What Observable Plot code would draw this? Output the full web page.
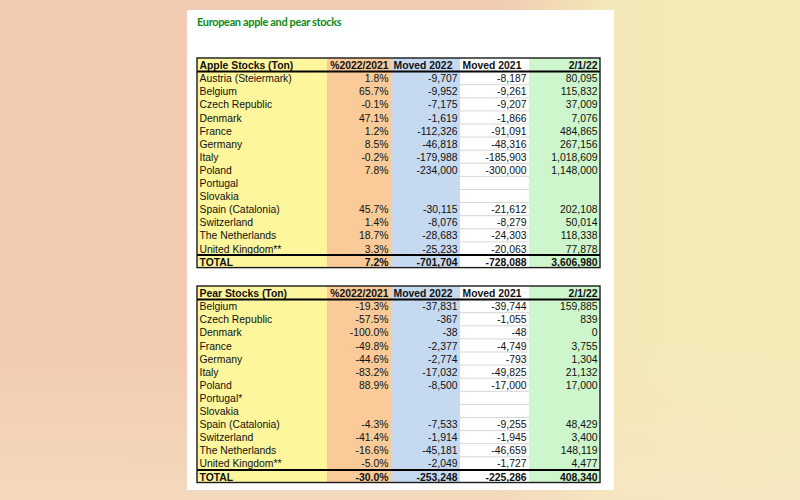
<!DOCTYPE html>
<html>
<head>
<meta charset="utf-8">
<script src="https://cdn.jsdelivr.net/npm/d3@7"></script>
<script src="https://cdn.jsdelivr.net/npm/@observablehq/plot@0.6"></script>
<style>
  html, body { margin: 0; padding: 0; }
  body {
    width: 800px; height: 500px; overflow: hidden; position: relative;
    background:
      linear-gradient(180deg, rgba(247,228,198,0) 68%, rgba(247,228,198,0.55) 100%),
      linear-gradient(90deg, #f1cab1 0%, #f1cbb2 62%, #f3e8b7 76%, #f3ecb8 100%);
  }
  #panel { position: absolute; left: 187px; top: 10px; width: 427px; height: 480px; background: #fff; }
  #title { position: absolute; left: 197px; top: 15px; font: bold 11px Lato, sans-serif; letter-spacing: -0.35px; color: #0e8a14; white-space: nowrap; }
  .tbl { position: absolute; left: 195px; }
  .tbl svg { display: block; }
</style>
</head>
<body>
<div id="panel"></div>
<div id="title">European apple and pear stocks</div>
<div id="apple" class="tbl" style="top:56px"></div>
<div id="pear" class="tbl" style="top:284px"></div>
<script>
// ---------- data ----------
const columnHeaders = ["%2022/2021", "Moved 2022", "Moved 2021", "2/1/22"];

const appleTitle = "Apple Stocks (Ton)";
const appleCountries = ["Austria (Steiermark)", "Belgium", "Czech Republic", "Denmark", "France", "Germany", "Italy", "Poland", "Portugal", "Slovakia", "Spain (Catalonia)", "Switzerland", "The Netherlands", "United Kingdom**"];
const applePct = [1.8, 65.7, -0.1, 47.1, 1.2, 8.5, -0.2, 7.8, null, null, 45.7, 1.4, 18.7, 3.3];
const appleMoved2022 = [-9707, -9952, -7175, -1619, -112326, -46818, -179988, -234000, null, null, -30115, -8076, -28683, -25233];
const appleMoved2021 = [-8187, -9261, -9207, -1866, -91091, -48316, -185903, -300000, null, null, -21612, -8279, -24303, -20063];
const appleStock = [80095, 115832, 37009, 7076, 484865, 267156, 1018609, 1148000, null, null, 202108, 50014, 118338, 77878];
const appleTotal = [7.2, -701704, -728088, 3606980];

const pearTitle = "Pear Stocks (Ton)";
const pearCountries = ["Belgium", "Czech Republic", "Denmark", "France", "Germany", "Italy", "Poland", "Portugal*", "Slovakia", "Spain (Catalonia)", "Switzerland", "The Netherlands", "United Kingdom**"];
const pearPct = [-19.3, -57.5, -100.0, -49.8, -44.6, -83.2, 88.9, null, null, -4.3, -41.4, -16.6, -5.0];
const pearMoved2022 = [-37831, -367, -38, -2377, -2774, -17032, -8500, null, null, -7533, -1914, -45181, -2049];
const pearMoved2021 = [-39744, -1055, -48, -4749, -793, -49825, -17000, null, null, -9255, -1945, -46659, -1727];
const pearStock = [159885, 839, 0, 3755, 1304, 21132, 17000, null, null, 48429, 3400, 148119, 4477];
const pearTotal = [-30.0, -253248, -225286, 408340];

// ---------- layout ----------
const edges = [0, 130, 194, 263, 332, 403];      // column boundaries (px)
const colColors = ["#fdf69c", "#facb98", "#c5d9f1", "#ffffff", "#cdf6cd"];
const rowH = 13.1;
const FONT = "Liberation Sans, Arial, sans-serif";
const FS = 10.4;

const loc = d3.formatLocale({decimal: ".", thousands: ",", grouping: [3], currency: ["$", ""], minus: "-"});
const fmtNum = v => v == null ? "" : loc.format(",")(v);
const fmtPct = v => v == null ? "" : v.toFixed(1) + "%";

function drawTable(el, title, labels, pct, m22, m21, stock, total) {
  const rows = [{kind: "header", cells: [title, ...columnHeaders]}];
  labels.forEach((l, i) => rows.push({kind: "data", cells: [l, fmtPct(pct[i]), fmtNum(m22[i]), fmtNum(m21[i]), fmtNum(stock[i])]}));
  rows.push({kind: "total", cells: ["TOTAL", fmtPct(total[0]), fmtNum(total[1]), fmtNum(total[2]), fmtNum(total[3])]});
  const n = rows.length;
  const W = edges[edges.length - 1];
  const texts = rows.flatMap((r, i) => r.cells.map((t, c) => ({i, c, t, kind: r.kind})));

  const anchorOf = d => d.c === 0 ? "start" : (d.kind === "header" && (d.c === 2 || d.c === 3)) ? "middle" : "end";
  const xOf = d => {
    const a = anchorOf(d);
    if (a === "start") return edges[0] + 2;
    if (a === "middle") return (edges[d.c] + edges[d.c + 1]) / 2 - 3;
    return edges[d.c + 1] - 3;
  };
  const textMarks = [];
  for (const anchor of ["start", "middle", "end"]) {
    for (const bold of [false, true]) {
      const sub = texts.filter(d => anchorOf(d) === anchor && ((d.kind !== "data") === bold) && d.t !== "");
      if (!sub.length) continue;
      textMarks.push(Plot.text(sub, {
        x: xOf, y: d => d.i + 0.5, text: "t", dy: 0.8,
        textAnchor: anchor, fontWeight: bold ? "bold" : "normal",
        fontSize: FS, fill: "#111"
      }));
    }
  }

  const plot = Plot.plot({
    width: W + 4, height: n * rowH + 4,
    marginTop: 2, marginBottom: 2, marginLeft: 2, marginRight: 2,
    x: {domain: [0, W], range: [2, W + 2], axis: null},
    y: {domain: [0, n], range: [2, 2 + n * rowH], axis: null},
    style: {background: "transparent", fontFamily: FONT, fontSize: FS + "px"},
    marks: [
      ...colColors.map((col, c) => Plot.rect([c], {x1: c => edges[c], x2: c => edges[c + 1], y1: 0, y2: n, fill: col})),
      Plot.ruleY(d3.range(2, n - 1), {x1: edges[3], x2: edges[4], stroke: "#d6d6d6", strokeWidth: 1}),
      ...textMarks,
      Plot.ruleY([1, n - 1], {x1: 0, x2: W, stroke: "#000", strokeWidth: 2}),
      Plot.rect([0], {x1: 0, x2: W, y1: 0, y2: n, fill: "none", stroke: "#1a1a1a", strokeWidth: 1.4})
    ]
  });
  document.getElementById(el).appendChild(plot);
}

drawTable("apple", appleTitle, appleCountries, applePct, appleMoved2022, appleMoved2021, appleStock, appleTotal);
drawTable("pear", pearTitle, pearCountries, pearPct, pearMoved2022, pearMoved2021, pearStock, pearTotal);
</script>
</body>
</html>
